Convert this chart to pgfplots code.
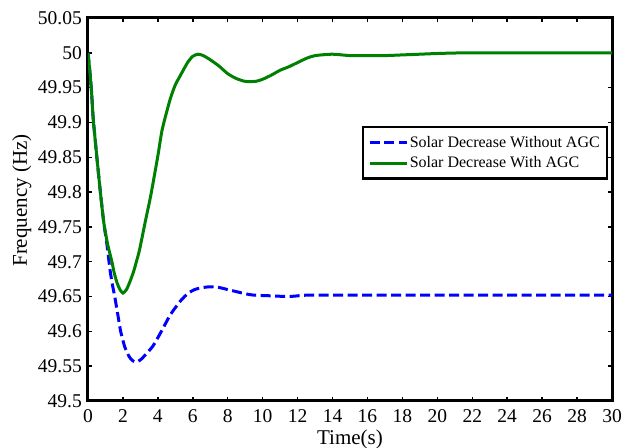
\documentclass[border=0pt]{standalone}
\usepackage{pgfplots}
\pgfplotsset{compat=1.18}
\usepackage{fontspec}
\setmainfont{Liberation Serif}
\definecolor{mgreen}{rgb}{0,0.5,0}
\definecolor{mblue}{rgb}{0,0,1}
\pgfplotstableread{
t f
0 50.000
0.1 49.975
0.2 49.945
0.3 49.905
0.5 49.852
0.7 49.802
0.9 49.757
1.1 49.722
1.25 49.690
1.39 49.668
1.53 49.650
1.72 49.622
1.87 49.600
2.1 49.578
2.35 49.564
2.55 49.558
2.77 49.556
3.0 49.559
3.24 49.565
3.72 49.579
4.2 49.600
4.67 49.622
5.0 49.634
5.34 49.645
5.7 49.654
6.1 49.660
6.6 49.663
7.0 49.664
7.5 49.663
8.0 49.660
8.5 49.657
9.0 49.654
9.5 49.652
10.5 49.651
11.5 49.650
12.5 49.652
14 49.652
20 49.652
30 49.652
}\blue
\pgfplotstableread{
t f
0 50.000
0.1 49.975
0.2 49.945
0.3 49.905
0.5 49.852
0.7 49.802
0.9 49.757
1.1 49.728
1.25 49.712
1.37 49.700
1.5 49.684
1.66 49.670
1.83 49.660
2.0 49.655
2.2 49.660
2.38 49.670
2.6 49.685
2.77 49.700
2.95 49.717
3.3 49.760
3.6 49.796
4.0 49.852
4.25 49.890
4.7 49.933
5.0 49.954
5.3 49.968
5.7 49.986
6.0 49.995
6.3 49.998
6.6 49.996
7.0 49.990
7.5 49.981
8.0 49.970
8.5 49.963
9.0 49.959
9.6 49.959
10.0 49.962
10.5 49.968
11.0 49.975
11.5 49.980
12.0 49.986
12.5 49.992
13.0 49.996
14.0 49.998
15.0 49.996
16.0 49.996
17.0 49.996
18.0 49.997
19.0 49.998
20.0 49.999
22.0 50.000
30.0 50.000
}\green
\begin{document}
\begin{tikzpicture}
\begin{axis}[
  scale only axis, width=524pt, height=383pt,
  xmin=0, xmax=30, ymin=49.5, ymax=50.05,
  xtick={0,2,4,6,8,10,12,14,16,18,20,22,24,26,28,30},
  xticklabels={0,2,4,6,8,10,12,14,16,18,20,22,24,26,28,30},
  ytick={49.5,49.55,49.6,49.65,49.7,49.75,49.8,49.85,49.9,49.95,50,50.05},
  yticklabels={49.5,49.55,49.6,49.65,49.7,49.75,49.8,49.85,49.9,49.95,50,50.05},
  /pgf/number format/assume math mode=true,
  tick align=inside, xtick pos=both, ytick pos=both,
  major tick length=4pt,
  every tick/.style={black, line width=1.5pt},
  axis line style={line width=3pt},
  ticklabel style={font=\fontsize{19.5}{20}\selectfont, inner sep=0pt},
  xticklabel style={anchor=north, yshift=-8pt},
  yticklabel style={anchor=east, xshift=-6pt},
  xlabel={Time(s)},
  ylabel={Frequency (Hz)},
  label style={font=\fontsize{21}{22}\selectfont, inner sep=0pt},
  xlabel style={at={(axis description cs:0.5,0)}, anchor=center, yshift=-38.5pt},
  ylabel style={at={(axis description cs:-0.126,0.5235)}, anchor=center},
  legend style={at={(axis description cs:1,1)}, anchor=north east, xshift=-4pt, yshift=-108pt,
    font=\fontsize{16}{18}\selectfont, draw=black, line width=2.5pt, fill=white,
    inner xsep=5.5pt, inner ysep=5.5pt, nodes={inner xsep=1.5pt, inner ysep=3.8pt}},
  legend cell align=left,
  legend image code/.code={\draw[#1] (0pt,0pt) -- (37pt,0pt);},
]
\addplot[mblue, line width=3pt, dash pattern=on 10pt off 4.5pt, smooth, tension=0.4] table[x=t,y=f]{\blue};
\addlegendentry{Solar Decrease Without AGC}
\addplot[mgreen, line width=3pt, smooth, tension=0.4] table[x=t,y=f]{\green};
\addlegendentry{Solar Decrease With AGC}
\coordinate (sw) at (rel axis cs:0,0);
\coordinate (ne) at (rel axis cs:1,1);
\end{axis}
\pgfresetboundingbox
\path[use as bounding box] ([shift={(-88pt,-47pt)}]sw) rectangle ([shift={(15pt,18pt)}]ne);
\end{tikzpicture}
\end{document}
